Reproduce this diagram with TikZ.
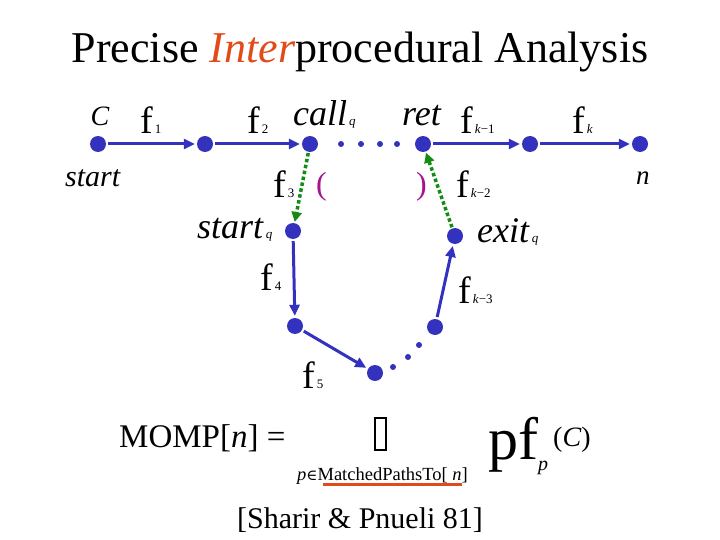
\documentclass[tikz,border=0pt]{standalone}
\usepackage{fontspec}
\setmainfont{Liberation Serif}
\newfontfamily\symfam{DejaVu Serif}
\usetikzlibrary{arrows.meta}
\definecolor{dotblue}{RGB}{50,50,190}
\definecolor{dotgreen}{RGB}{20,140,20}
\definecolor{paren}{RGB}{165,20,140}
\definecolor{titlered}{RGB}{225,75,25}
\newcommand{\fsz}[1]{\fontsize{#1}{#1}\selectfont}
\newcommand{\flab}[1]{{\fsz{38}f}\kern2pt{\fsz{13}#1}}
\begin{document}
\begin{tikzpicture}[x=1pt,y=-1pt,
  dot/.style={circle,fill=dotblue,inner sep=0pt,minimum size=16pt},
  sdot/.style={circle,fill=dotblue,inner sep=0pt,minimum size=6pt},
  arr/.style={draw=dotblue,line width=3pt,-{Triangle[length=11pt,width=10pt]},shorten <=2pt,shorten >=2pt},
  garr/.style={draw=dotgreen,line width=3.5pt,dash pattern=on 3.5pt off 2.5pt,-{Triangle[length=10pt,width=10pt]},shorten <=1pt,shorten >=1pt},
  lbl/.style={inner sep=0pt,anchor=base west},
  lblc/.style={inner sep=0pt,anchor=base}]
\useasboundingbox (0,0) rectangle (720,540);
% title
\node[lblc] (title) at (360,63) {\fsz{44}Precise \textcolor{titlered}{\textit{Inter}}procedural Analysis};
% nodes
\node[dot] (s) at (98,144) {};
\node[dot] (a) at (205,144) {};
\node[dot] (call) at (310,144) {};
\node[dot] (ret) at (423,144) {};
\node[dot] (b) at (530,144) {};
\node[dot] (n) at (640,144) {};
\node[sdot] (d1) at (341,144) {};
\node[sdot] (d2) at (361,144) {};
\node[sdot] (d3) at (380,144) {};
\node[sdot] (d4) at (397,144) {};
\node[dot] (sq) at (293,231) {};
\node[dot] (eq) at (455,236) {};
\node[dot] (c) at (295,326) {};
\node[dot] (bot) at (375,373) {};
\node[dot] (e) at (435,327) {};
\node[sdot] (e1) at (393,367) {};
\node[sdot] (e2) at (408,357) {};
\node[sdot] (e3) at (419,345) {};
% connectors
\draw[arr] (s) -- (a);
\draw[arr] (a) -- (call);
\draw[arr] (ret) -- (b);
\draw[arr] (b) -- (n);
\draw[garr] (call) -- (sq);
\draw[garr] (eq) -- (ret);
\draw[arr] (sq) -- (c);
\draw[arr] (c) -- (bot);
\draw[arr] (e) -- (eq);
% labels
\node[lblc] (lC) at (100,126) {\fsz{28}\textit{C}};
\node[lbl] (l1) at (140,134) {\flab{1}};
\node[lbl] (l2) at (247,134) {\flab{2}};
\node[lbl] (lcall) at (293,126) {\fsz{36}\textit{call}\kern2pt{\fsz{13}\textit{q}}};
\node[lbl] (lret) at (402,126) {\fsz{36}\textit{ret}};
\node[lbl] (lk1) at (460,134) {\flab{\textit{k}−1}};
\node[lbl] (lk) at (572,134) {\flab{\textit{k}}};
\node[lbl] (lstart) at (65,187) {\fsz{30}\textit{start}};
\node[lbl] (ln) at (636,185) {\fsz{27}\textit{n}};
\node[lbl] (l3) at (273,197) {\flab{3}};
\node[lbl,text=paren] (po) at (316,195) {\fsz{32}(};
\node[lbl,text=paren] (pc) at (416,195) {\fsz{32})};
\node[lbl] (lk2) at (456,198) {\flab{\textit{k}−2}};
\node[lbl] (lsq) at (197,238) {\fsz{36}\textit{start}\kern2pt{\fsz{13}\textit{q}}};
\node[lbl] (leq) at (477,243) {\fsz{36}\textit{exit}\kern2pt{\fsz{13}\textit{q}}};
\node[lbl] (l4) at (260,290) {\flab{4}};
\node[lbl] (lk3) at (458,303) {\flab{\textit{k}−3}};
\node[lbl] (l5) at (302,388) {\flab{5}};
% formula
\node[lbl] (momp) at (119,447) {\fsz{33}MOMP[\textit{n}] =};
\draw[line width=1.2pt] (375,418) rectangle (386,450);
\node[lbl] (sub) at (297,480) {\fsz{18.5}\textit{p}{\symfam\fsz{15}∈}MatchedPathsTo[ \textit{n}]};
\draw[titlered,line width=3pt] (323,484) -- (462,484);
\node[lbl] (pf) at (488,459) {\fsz{60}pf};
\node[lbl] (pfp) at (538,470) {\fsz{20}\textit{p}};
\node[lbl] (pfc) at (553,446) {\fsz{28}(\textit{C})};
\node[lblc] (cite) at (360,528) {\fsz{30}[Sharir \& Pnueli 81]};
\end{tikzpicture}
\end{document}
